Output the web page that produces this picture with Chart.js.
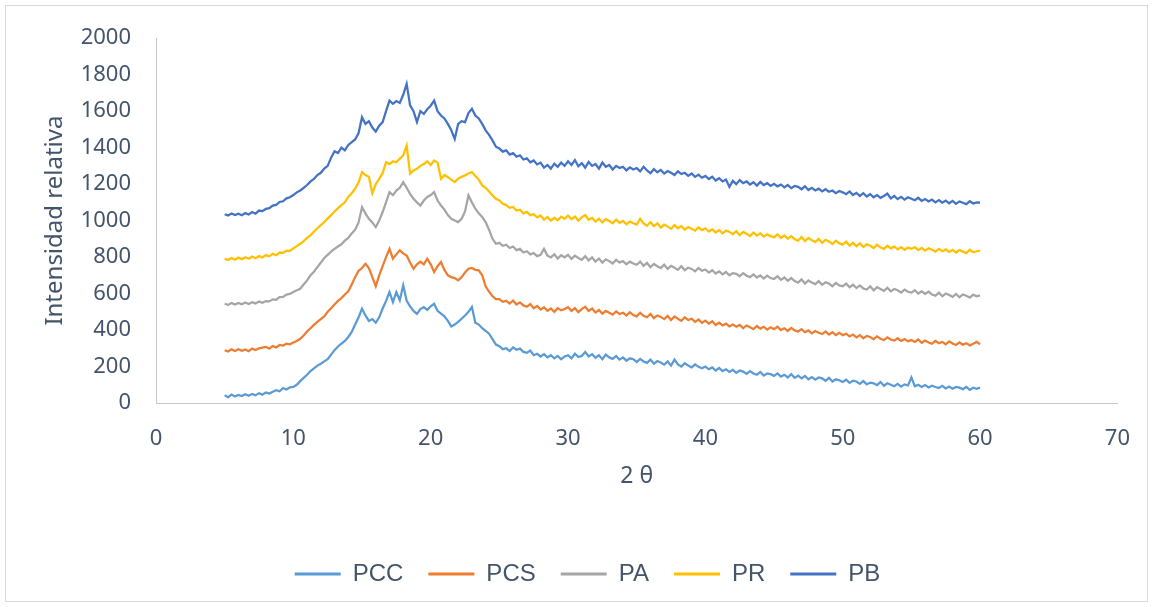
<!DOCTYPE html>
<html>
<head>
<meta charset="utf-8">
<script src="https://cdn.jsdelivr.net/npm/chart.js@4.4.1/dist/chart.umd.min.js"></script>
<style>
  html, body { margin: 0; padding: 0; background: #ffffff; }
  #wrap { position: relative; width: 1153px; height: 607px; }
  #frame { position: absolute; left: 5px; top: 5px; width: 1141px; height: 595px; border: 1px solid #d9d9d9; pointer-events: none; }
  canvas { position: absolute; left: 0; top: 0; }
</style>
</head>
<body>
<div id="wrap">
  <canvas id="c" width="1153" height="607"></canvas>
  <div id="frame"></div>
</div>
<script>
// Sampling of 2θ: first angle and step (values below are read at 5.00, 5.25, ... 60.00)
const THETA_START = 5;
const THETA_STEP = 0.25;

const xTicks = [0, 10, 20, 30, 40, 50, 60, 70];
const yTicks = [0, 200, 400, 600, 800, 1000, 1200, 1400, 1600, 1800, 2000];
const seriesNames = ['PCC', 'PCS', 'PA', 'PR', 'PB'];
const seriesColors = ['#5B9BD5', '#ED7D31', '#A5A5A5', '#FFC000', '#4472C4'];

const PCC = [
  42, 32, 46, 36, 44, 38, 48, 40, 50, 42, 54, 46, 58, 52, 62, 70, 64, 82, 74, 86,
  88, 100, 120, 138, 155, 175, 190, 205, 215, 228, 240, 265, 290, 310, 325, 340, 362, 390, 430, 470,
  517, 480, 450, 460, 440, 470, 517, 560, 608, 553, 608, 563, 645, 560, 530, 505, 489, 515, 526, 510,
  530, 544, 505, 490, 475, 450, 420, 430, 445, 462, 480, 500, 526, 440, 430, 410, 395, 380, 350, 320,
  312, 295, 300, 285, 305, 292, 298, 280, 275, 288, 262, 270, 255, 268, 250, 262, 245, 258, 240, 255,
  262, 245, 270, 252, 258, 280, 255, 268, 248, 262, 240, 265, 250, 242, 258, 238, 250, 232, 245, 240,
  225, 242, 228, 220, 238, 215, 230, 222, 210, 228, 205, 238, 212, 200, 218, 205, 195, 212, 198, 190,
  200, 185, 195, 178, 192, 175, 185, 170, 182, 165, 178, 172, 160, 175, 162, 155, 170, 150, 162, 158,
  148, 162, 145, 155, 140, 158, 138, 150, 135, 148, 130, 142, 128, 140, 135, 122, 138, 118, 130, 125,
  115, 128, 110, 122, 118, 105, 120, 102, 112, 108, 98, 115, 95, 108, 100, 92, 105, 90, 102, 96,
  140, 92, 100, 88, 98, 85, 95, 88, 82, 94, 80, 90, 78, 88, 84, 76, 88, 72, 84, 78,
  84
];

const PCS = [
  289, 282, 294, 285, 295, 286, 293, 284, 298, 290, 300, 304, 308, 298, 312, 305, 318, 315, 325, 322,
  332, 340, 352, 370, 392, 410, 428, 445, 460, 475, 500, 520, 540, 560, 575, 595, 612, 650, 690, 725,
  740, 763, 740, 690, 640, 700, 750, 800, 845, 791, 815, 837, 820, 809, 770, 736, 760, 775, 760, 791,
  760, 718, 750, 773, 730, 700, 690, 685, 672, 690, 715, 736, 740, 730, 727, 700, 640, 610, 585, 570,
  570, 555, 560, 545, 562, 540, 552, 535, 528, 542, 520, 532, 512, 525, 505, 518, 500, 520, 508, 515,
  525, 505, 520, 498, 515, 528, 505, 518, 496, 510, 490, 505, 495, 485, 502, 488, 495, 480, 498, 482,
  475, 495, 478, 470, 488, 465, 480, 472, 460, 478, 455, 475, 462, 450, 470, 455, 462, 445, 458, 440,
  452, 435, 448, 428, 440, 425, 435, 420, 430, 418, 428, 410, 425, 415, 405, 422, 408, 418, 402, 415,
  405, 418, 400, 410, 395, 412, 398, 392, 405, 388, 398, 382, 395, 385, 378, 392, 375, 388, 372, 385,
  372, 380, 365, 375, 360, 372, 355, 368, 362, 350, 365, 352, 345, 360, 348, 342, 355, 340, 350, 338,
  345, 335, 348, 330, 342, 332, 325, 340, 328, 335, 322, 338, 326, 318, 332, 320, 328, 316, 325, 335,
  322
];

const PA = [
  544, 538, 548, 540, 549, 541, 551, 543, 553, 546, 556, 549, 559, 557, 568, 566, 580, 582, 594, 598,
  608, 618, 626, 650, 672, 700, 720, 745, 770, 795, 812, 830, 845, 858, 870, 890, 905, 930, 950, 990,
  1074, 1040, 1010, 990, 964, 1000, 1047, 1100, 1156, 1140, 1165, 1180, 1211, 1180, 1147, 1120, 1100, 1083, 1110, 1130,
  1140, 1156, 1110, 1083, 1060, 1030, 1010, 1000, 992, 1010, 1050, 1138, 1100, 1065, 1040, 1020, 992, 950, 900, 873,
  878, 862, 868, 850, 858, 838, 845, 825, 832, 815, 822, 805, 812, 845, 808, 798, 815, 792, 810, 798,
  812, 790, 808, 795, 785, 805, 782, 798, 775, 792, 770, 788, 778, 765, 785, 770, 778, 760, 775, 765,
  758, 775, 752, 768, 745, 762, 750, 740, 758, 735, 752, 742, 730, 750, 728, 742, 735, 722, 740, 725,
  732, 715, 728, 710, 722, 705, 718, 700, 712, 708, 695, 712, 698, 690, 705, 688, 700, 682, 698, 685,
  680, 695, 675, 688, 670, 685, 668, 660, 678, 655, 672, 660, 652, 668, 648, 662, 655, 640, 658, 645,
  640, 655, 635, 648, 630, 645, 628, 622, 640, 618, 635, 625, 615, 632, 612, 625, 618, 605, 622, 610,
  605, 618, 600, 612, 598, 610, 595, 588, 605, 585, 600, 592, 582, 598, 580, 595, 588, 578, 594, 585,
  590
];

const PR = [
  791, 784, 795, 786, 797, 788, 799, 791, 803, 794, 806, 798, 811, 804, 818, 810, 825, 823, 835, 834,
  848, 860, 873, 888, 905, 919, 940, 958, 975, 992, 1012, 1030, 1050, 1068, 1085, 1100, 1130, 1150, 1175, 1210,
  1266, 1250, 1240, 1150, 1200, 1229, 1260, 1320, 1310, 1325, 1320, 1340, 1357, 1412, 1257, 1275, 1284, 1300, 1310, 1325,
  1305, 1330, 1318, 1229, 1250, 1238, 1225, 1211, 1230, 1240, 1248, 1258, 1266, 1245, 1225, 1193, 1180, 1160, 1138, 1120,
  1110, 1092, 1085, 1070, 1075, 1055, 1060, 1040, 1048, 1030, 1035, 1018, 1028, 1005, 1020, 1000, 1015, 1002, 1022, 1010,
  1028, 1008, 1022, 1000, 1018, 1030, 1005, 1015, 995, 1010, 990, 1008, 998, 985, 1005, 988, 998, 980, 995, 985,
  978, 1010, 985, 972, 992, 970, 985, 962, 978, 968, 955, 975, 958, 970, 950, 965, 955, 945, 962, 948,
  958, 940, 952, 935, 948, 930, 945, 938, 925, 942, 920, 938, 928, 915, 935, 918, 930, 912, 925, 915,
  908, 925, 905, 918, 900, 915, 898, 890, 910, 888, 905, 892, 882, 900, 878, 895, 885, 872, 890, 875,
  868, 885, 862, 878, 860, 875, 855, 870, 862, 850, 868, 852, 845, 862, 848, 858, 842, 855, 840, 852,
  845, 855, 838, 850, 835, 848, 840, 830, 845, 832, 842, 828, 840, 825, 838, 830, 822, 840, 826, 832,
  835
];

const PB = [
  1035, 1028, 1039, 1030, 1038, 1029, 1041, 1033, 1047, 1038, 1055, 1052, 1064, 1068, 1082, 1086, 1102, 1106, 1122, 1128,
  1140, 1155, 1165, 1180, 1195, 1215, 1228, 1250, 1262, 1285, 1300, 1345, 1380, 1370, 1400, 1385, 1415, 1430, 1445, 1480,
  1567, 1530, 1545, 1510, 1488, 1520, 1540, 1600, 1658, 1640, 1655, 1645, 1690, 1750, 1632, 1600, 1540, 1600, 1585, 1610,
  1630, 1658, 1600, 1576, 1560, 1530, 1495, 1448, 1530, 1545, 1540, 1590, 1613, 1576, 1560, 1530, 1495, 1470, 1440, 1405,
  1395, 1378, 1385, 1362, 1370, 1350, 1358, 1335, 1342, 1320, 1330, 1308, 1318, 1290, 1305, 1285, 1312, 1295, 1318, 1300,
  1325, 1305, 1332, 1298, 1315, 1290, 1322, 1300, 1310, 1285, 1318, 1295, 1305, 1280, 1300, 1288, 1295, 1275, 1292, 1280,
  1288, 1270, 1295, 1275, 1260, 1282, 1265, 1278, 1258, 1272, 1262, 1250, 1270, 1255, 1262, 1245, 1258, 1240, 1252, 1235,
  1245, 1228, 1240, 1220, 1232, 1215, 1225, 1185, 1218, 1200, 1222, 1205, 1215, 1198, 1210, 1192, 1212, 1195, 1205, 1190,
  1202, 1188, 1198, 1182, 1195, 1178, 1190, 1185, 1172, 1188, 1168, 1180, 1165, 1175, 1160, 1172, 1158, 1165, 1150, 1162,
  1155, 1145, 1160, 1140, 1152, 1135, 1150, 1132, 1145, 1128, 1140, 1125, 1135, 1148, 1122, 1135, 1118, 1130, 1115, 1128,
  1120, 1112, 1125, 1108, 1118, 1105, 1115, 1100, 1112, 1098, 1110, 1095, 1108, 1092, 1105, 1098, 1090, 1106, 1094, 1100,
  1098
];

const seriesValues = [PCC, PCS, PA, PR, PB];

const FONT = "'Noto Sans', 'Liberation Sans', sans-serif";
const LEGEND_FONT = "'Liberation Sans', Arial, sans-serif";
const TEXT = '#44546A';

const datasets = seriesValues.map((vals, k) => ({
  label: seriesNames[k],
  data: vals.map((v, i) => ({ x: THETA_START + i * THETA_STEP, y: v })),
  borderColor: seriesColors[k],
  backgroundColor: seriesColors[k],
  borderWidth: 2.25,
  pointRadius: 0,
  tension: 0,
  fill: false,
  yAxisID: 'y'
}));

new Chart(document.getElementById('c'), {
  type: 'line',
  data: { datasets },
  options: {
    responsive: false,
    animation: false,
    events: [],
    layout: { padding: { left: 22, right: 0, top: 36, bottom: 11 } },
    plugins: {
      tooltip: { enabled: false },
      legend: {
        position: 'bottom',
        labels: {
          color: TEXT,
          font: { family: LEGEND_FONT, size: 24 },
          boxWidth: 46,
          boxHeight: 3,
          padding: 25,
          generateLabels(chart) {
            return chart.data.datasets.map((ds, i) => ({
              text: ds.label,
              fillStyle: ds.borderColor,
              strokeStyle: ds.borderColor,
              lineWidth: 0,
              hidden: false,
              datasetIndex: i,
              fontColor: TEXT
            }));
          }
        }
      }
    },
    scales: {
      x: {
        type: 'linear',
        min: xTicks[0],
        max: xTicks[xTicks.length - 1],
        afterBuildTicks(scale) { scale.ticks = xTicks.map(v => ({ value: v })); },
        afterFit(scale) { scale.height = 134; },
        grid: { display: false, drawTicks: false },
        border: { display: true, color: '#c9c9c9', width: 1 },
        ticks: { color: TEXT, font: { family: FONT, size: 22 }, padding: 23, maxRotation: 0, callback: v => String(v) },
        title: { display: true, text: '2 θ', color: TEXT, font: { family: FONT, size: 23 }, padding: { top: 0, bottom: 47 } }
      },
      y: {
        type: 'linear',
        position: 'left',
        min: yTicks[0],
        max: yTicks[yTicks.length - 1],
        afterBuildTicks(scale) { scale.ticks = yTicks.map(v => ({ value: v })); },
        afterFit(scale) { scale.width = 134; },
        grid: { display: false, drawTicks: false },
        border: { display: true, color: '#c9c9c9', width: 1 },
        ticks: { color: TEXT, font: { family: FONT, size: 22 }, padding: 25, callback: v => String(v) },
        title: { display: true, text: 'Intensidad relativa', color: TEXT, font: { family: FONT, size: 24 }, padding: { top: 19, bottom: 0 } }
      },
      spacer: {
        type: 'linear',
        position: 'right',
        display: true,
        min: 0,
        max: 1,
        afterFit(scale) { scale.width = 35; },
        grid: { display: false, drawTicks: false },
        border: { display: false },
        ticks: { display: false },
        title: { display: false }
      }
    }
  }
});
</script>
</body>
</html>
